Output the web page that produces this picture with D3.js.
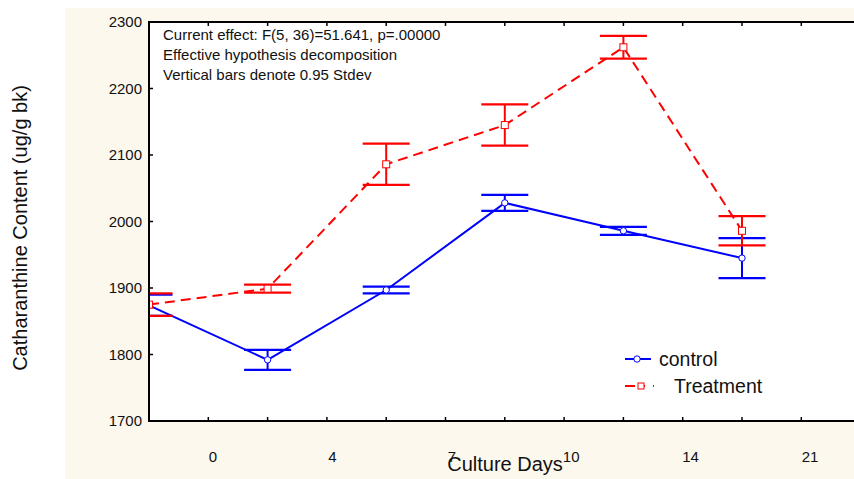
<!DOCTYPE html>
<html>
<head>
<meta charset="utf-8">
<script src="https://cdn.jsdelivr.net/npm/d3@7"></script>
<style>
  body { margin: 0; background: #ffffff; }
  svg { display: block; font-family: "Liberation Sans", Arial, sans-serif; }
</style>
</head>
<body>
<svg id="chart" width="854" height="479"></svg>
<script>
// 数据
const days = ['0', '4', '7', '10', '14', '21'];
const controlMean = [1874, 1792, 1897, 2028, 1986, 1945];
const controlErr = [16, 15, 5, 12, 6, 30];
const treatMean = [1875, 1899, 2086, 2145, 2262, 1986];
const treatErr = [17, 6, 31, 31, 17, 22];
const yTicks = [1700, 1800, 1900, 2000, 2100, 2200, 2300];
const notes = [
  'Current effect: F(5, 36)=51.641, p=.00000',
  'Effective hypothesis decomposition',
  'Vertical bars denote 0.95 Stdev'
];

const svg = d3.select('#chart');
const plot = { left: 149, top: 22, right: 854, bottom: 421 };

// 背景
svg.append('rect').attr('x', 65).attr('y', 8).attr('width', 789).attr('height', 471).attr('fill', '#fcf8ee');
svg.append('rect').attr('x', plot.left).attr('y', plot.top)
  .attr('width', plot.right - plot.left).attr('height', plot.bottom - plot.top).attr('fill', '#ffffff');

// 尺度
const xScale = d3.scaleLinear().domain([0, 5]).range([149, 742]);
const xLabel = d3.scaleLinear().domain([0, 5]).range([213, 810]);
const yScale = d3.scaleLinear().domain([1700, 2300]).range([plot.bottom, plot.top]);

svg.append('clipPath').attr('id', 'clip').append('rect')
  .attr('x', plot.left).attr('y', 0).attr('width', plot.right - plot.left).attr('height', 479);

// x轴刻度（上下，向内）
const tickIdx = d3.range(0, 13).map(k => k / 2);
const gx = svg.append('g');
tickIdx.forEach(k => {
  const x = xScale(k);
  gx.append('line').attr('x1', x).attr('x2', x).attr('y1', plot.top).attr('y2', plot.top + 4)
    .attr('stroke', '#000').attr('stroke-width', 1.5);
  gx.append('line').attr('x1', x).attr('x2', x).attr('y1', plot.bottom).attr('y2', plot.bottom - 4)
    .attr('stroke', '#000').attr('stroke-width', 1.5);
});
days.forEach((d, i) => {
  svg.append('text').attr('x', xLabel(i)).attr('y', 462)
    .attr('text-anchor', 'middle').attr('font-size', '15px').attr('fill', '#111').text(d);
});

// y轴刻度
yTicks.forEach(v => {
  svg.append('line').attr('x1', plot.left).attr('x2', plot.left + 4)
    .attr('y1', yScale(v)).attr('y2', yScale(v)).attr('stroke', '#000').attr('stroke-width', 1.5);
  svg.append('text').attr('x', 142).attr('y', yScale(v)).attr('dy', '0.35em')
    .attr('text-anchor', 'end').attr('font-size', '15px').attr('fill', '#111').text(v);
});

// 坐标轴线
svg.append('line').attr('x1', plot.left).attr('x2', plot.right).attr('y1', plot.top).attr('y2', plot.top)
  .attr('stroke', '#000').attr('stroke-width', 2);
svg.append('line').attr('x1', plot.left).attr('x2', plot.right).attr('y1', plot.bottom).attr('y2', plot.bottom)
  .attr('stroke', '#000').attr('stroke-width', 2);

// 轴标题
svg.append('text').attr('x', 505).attr('y', 471).attr('text-anchor', 'middle')
  .attr('font-size', '20px').attr('fill', '#111').text('Culture Days');
svg.append('text').attr('transform', 'translate(27, 228) rotate(-90)').attr('text-anchor', 'middle')
  .attr('font-size', '20px').attr('fill', '#111').text('Catharanthine Content (ug/g bk)');

// 注释
notes.forEach((t, i) => {
  svg.append('text').attr('x', 163).attr('y', 40 + 20 * i).attr('font-size', '15px')
    .attr('fill', '#111').text(t);
});

// 折线与误差棒
const line = d3.line().x((d, i) => xScale(i)).y(d => yScale(d));
const series = [
  { mean: controlMean, err: controlErr, color: '#0000ff', dash: null, marker: 'circle' },
  { mean: treatMean, err: treatErr, color: '#ff0000', dash: '10,6', marker: 'square' }
];
const g = svg.append('g').attr('clip-path', 'url(#clip)');
series.forEach(s => {
  g.append('path').attr('d', line(s.mean)).attr('fill', 'none')
    .attr('stroke', s.color).attr('stroke-width', 2).attr('stroke-dasharray', s.dash);
});
series.forEach(s => {
  s.mean.forEach((m, i) => {
    const x = xScale(i), y1 = yScale(m + s.err[i]), y2 = yScale(m - s.err[i]);
    g.append('line').attr('x1', x).attr('x2', x).attr('y1', y1).attr('y2', y2)
      .attr('stroke', s.color).attr('stroke-width', 2);
    [y1, y2].forEach(y => {
      g.append('line').attr('x1', x - 23.5).attr('x2', x + 23.5).attr('y1', y).attr('y2', y)
        .attr('stroke', s.color).attr('stroke-width', 2.2);
    });
  });
});
series.forEach(s => {
  s.mean.forEach((m, i) => {
    if (s.marker === 'circle') {
      g.append('circle').attr('cx', xScale(i)).attr('cy', yScale(m)).attr('r', 3.2)
        .attr('fill', '#fff').attr('stroke', s.color).attr('stroke-width', 1);
    } else {
      g.append('rect').attr('x', xScale(i) - 3.5).attr('y', yScale(m) - 3.5).attr('width', 7).attr('height', 7)
        .attr('fill', '#fff').attr('stroke', s.color).attr('stroke-width', 1);
    }
  });
});

// 左轴线
svg.append('line').attr('x1', plot.left).attr('x2', plot.left).attr('y1', plot.top - 1).attr('y2', plot.bottom + 1)
  .attr('stroke', '#000').attr('stroke-width', 2);

// 图例
const legend = svg.append('g');
legend.append('line').attr('x1', 625).attr('x2', 651).attr('y1', 359).attr('y2', 359)
  .attr('stroke', '#0000ff').attr('stroke-width', 2);
legend.append('circle').attr('cx', 637).attr('cy', 359).attr('r', 3.2)
  .attr('fill', '#fff').attr('stroke', '#0000ff').attr('stroke-width', 1);
legend.append('text').attr('x', 659).attr('y', 366).attr('font-size', '19.5px').attr('fill', '#111').text('control');
legend.append('line').attr('x1', 625).attr('x2', 660).attr('y1', 386).attr('y2', 386)
  .attr('stroke', '#ff0000').attr('stroke-width', 2).attr('stroke-dasharray', '10,4,6,8,1,10');
legend.append('rect').attr('x', 638).attr('y', 383).attr('width', 6).attr('height', 6)
  .attr('fill', '#fff').attr('stroke', '#ff0000').attr('stroke-width', 1);
legend.append('text').attr('x', 674).attr('y', 393).attr('font-size', '19.5px').attr('fill', '#111').text('Treatment');
</script>
</body>
</html>
